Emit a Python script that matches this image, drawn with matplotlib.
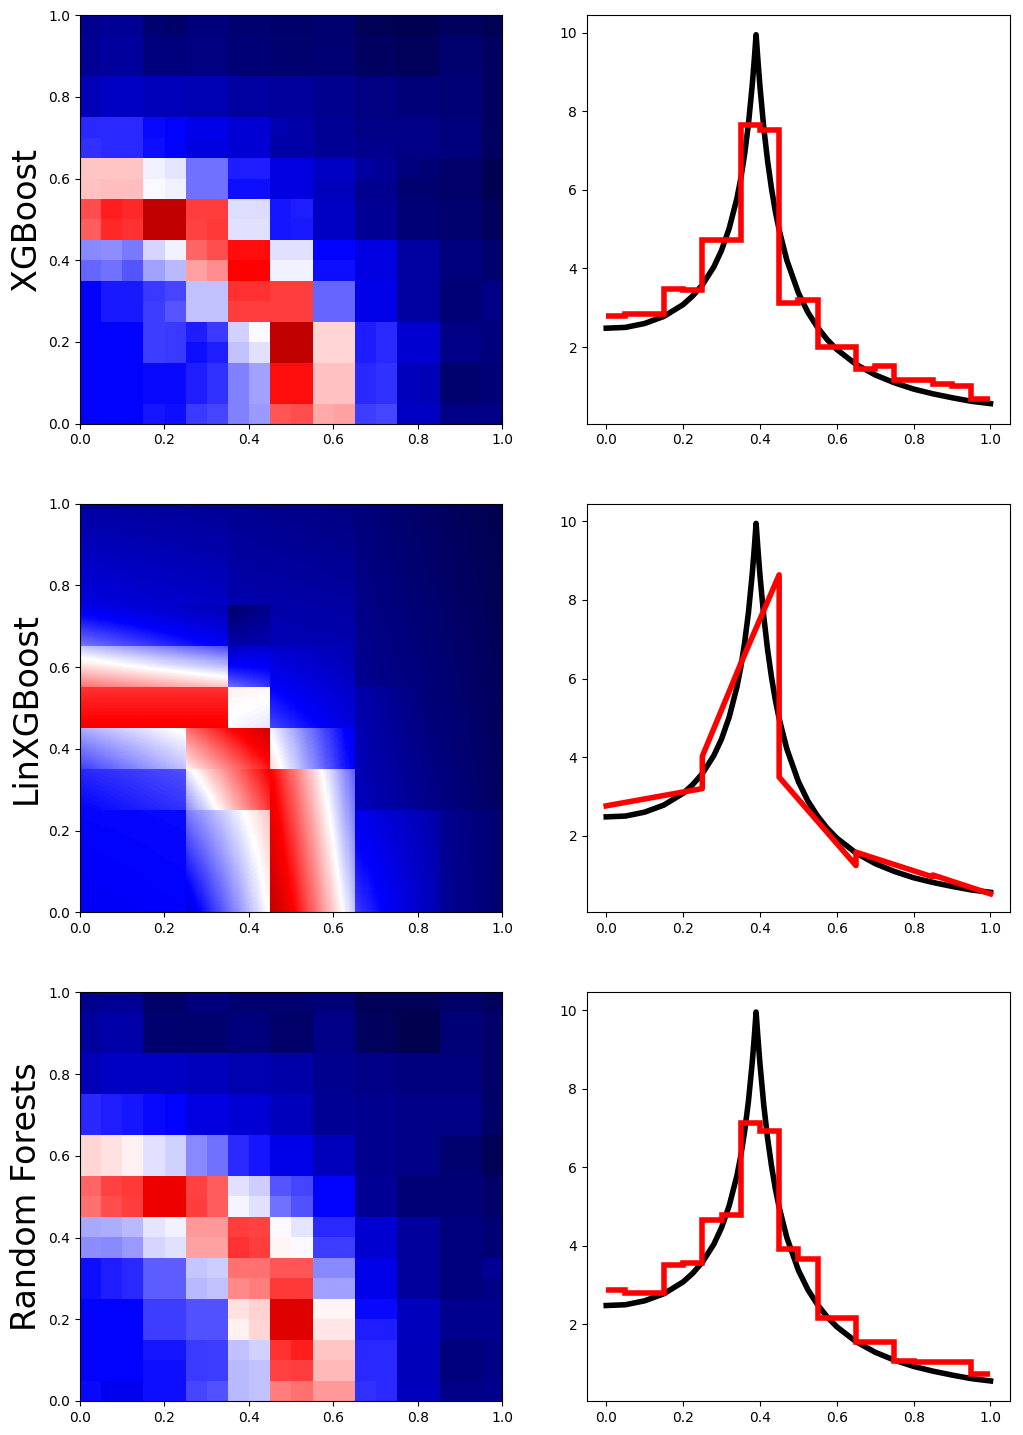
import numpy as np
import matplotlib
matplotlib.use("Agg")
import matplotlib.pyplot as plt

# ---- heatmap values on a 20x20 grid (0.05 cells), top row = y 0.95..1.0
# colour scale 0..100 mapped onto the seismic colormap
xgb_grid = [
    [9.5, 10.5, 10.5, 5, 4, 7, 7, 5, 5, 4.5, 4.5, 5, 5, 1.5, 1.5, 1, 1, 2.5, 2.5, 1.5],
    [10.5, 11.5, 11.5, 7, 7, 7.5, 7.5, 6, 6, 5, 5, 5.5, 5.5, 3, 3, 2, 2, 5, 5, 3],
    [10.5, 11.5, 11.5, 7, 7, 7.5, 7.5, 6, 6, 5, 5, 5.5, 5.5, 3, 3, 2, 2, 5, 5, 3],
    [15, 17, 17, 15.5, 15.5, 14.5, 14.5, 12, 12, 11, 11, 9.5, 9.5, 7.5, 7.5, 6.5, 6.5, 6, 6, 3],
    [15, 17, 17, 15.5, 15.5, 14.5, 14.5, 12, 12, 11, 11, 9.5, 9.5, 7.5, 7.5, 6.5, 6.5, 6, 6, 3],
    [29, 29, 29, 26, 25, 22, 22, 19.5, 19.5, 14, 13, 10.5, 10.5, 8.5, 8.5, 8.5, 8.5, 7, 7, 3],
    [30, 29, 29, 26.5, 25, 21, 21, 19.5, 19.5, 13, 13, 10.5, 10.5, 9, 9, 8.5, 8.5, 7, 7, 3],
    [55.5, 55.5, 55.5, 48.5, 47.5, 36, 36, 28, 28, 21, 21, 17, 17, 12, 10.5, 7, 6, 4, 4, 1],
    [56, 56.5, 56.5, 49.5, 48.5, 36, 36, 26.5, 26.5, 21, 21, 16, 16, 9.5, 9.5, 5, 5, 4, 4, 1],
    [67.5, 72, 71, 87, 87, 69, 69, 46.5, 46.5, 27, 28, 17, 17, 10.5, 10.5, 6, 6, 5, 5, 2.7],
    [66, 71, 70, 87, 87, 68.5, 69.5, 47, 47, 27, 27.5, 17, 17, 10.5, 10.5, 6, 6, 5, 5, 2.7],
    [38.5, 39, 37, 46, 48.5, 65, 67.5, 73.5, 73.5, 47, 47, 25, 25, 21, 21, 12, 12, 7, 7, 5],
    [35, 36, 33.5, 40.7, 43, 59, 61, 75, 75, 48.5, 48.5, 26.5, 26.5, 21, 21, 12, 12, 7, 7, 5],
    [25, 27.5, 27.5, 30.5, 32, 44, 44, 70, 70, 69, 69, 35, 35, 22, 22, 12, 12, 6, 6, 8.5],
    [25, 27.5, 27.5, 31, 33.5, 44, 44, 69, 69, 69, 69, 35, 35, 22, 22, 12, 12, 6, 6, 8.5],
    [25, 25, 25, 31, 30.5, 28, 30.5, 45.5, 49.5, 87, 87, 54, 54, 28, 29, 18.5, 18.5, 8.5, 8.5, 7],
    [25, 25, 25, 31, 30.5, 26.5, 28, 44, 47, 87, 87, 54, 54, 28, 29, 18.5, 18.5, 8.5, 8.5, 7],
    [25, 25, 25, 26, 26, 28, 30, 37.5, 41, 73.5, 73.5, 56, 56, 29, 30, 16, 15, 5, 5, 6],
    [25, 25, 25, 26, 26, 28, 30, 37.5, 41, 73.5, 73.5, 56, 56, 29, 30, 16, 15, 5, 5, 6],
    [25, 25, 25, 27, 26.5, 30.5, 32, 37.5, 40, 66.5, 67.5, 58.5, 59, 31, 32, 17, 17, 8.5, 8.5, 8.5],
]

rf_grid = [
    [9.5, 10.5, 10.5, 4, 4, 7, 7, 5, 5, 5, 5, 6, 6, 1.6, 1.6, 1.6, 1.6, 4, 4, 2.7],
    [11.7, 13, 13, 5, 5, 5, 5, 7, 7, 4, 4, 8.5, 8.5, 2.7, 2.7, 0.5, 0.5, 6, 6, 4],
    [11.7, 13, 13, 5, 5, 5, 5, 7, 7, 4, 4, 8.5, 8.5, 2.7, 2.7, 0.5, 0.5, 6, 6, 4],
    [15, 17, 17, 16.5, 16.5, 16, 16, 14, 14, 13, 13, 9.5, 9.5, 8.5, 8.5, 7, 7, 7, 7, 4],
    [15, 17, 17, 16.5, 16.5, 16, 16, 14, 14, 13, 13, 9.5, 9.5, 8.5, 8.5, 7, 7, 7, 7, 4],
    [29, 28, 27, 26, 25, 21, 21, 19.5, 19.5, 16, 16, 10.5, 10.5, 9.5, 9.5, 8.5, 8.5, 8.5, 8.5, 4],
    [29, 28, 27, 26, 25, 21, 21, 19.5, 19.5, 16, 16, 10.5, 10.5, 9.5, 9.5, 8.5, 8.5, 8.5, 8.5, 4],
    [54, 53, 51.5, 47, 45.5, 38.5, 36, 29, 27, 22, 22, 16, 16, 9.5, 9.5, 8.5, 8.5, 5, 5, 1.6],
    [54, 53, 51.5, 47, 45.5, 38.5, 36, 29, 27, 22, 22, 16, 16, 9.5, 9.5, 8.5, 8.5, 5, 5, 1.6],
    [65, 68.5, 69.5, 78, 78, 68.5, 66, 47, 45, 33.5, 32, 25, 25, 10.5, 10.5, 6, 6, 6, 6, 4],
    [64, 67.5, 69, 78, 78, 69, 66, 49, 47, 36, 33, 25, 25, 10.5, 10.5, 6, 6, 6, 6, 4],
    [41.5, 42, 43, 47.5, 48.5, 60, 60, 69, 68.5, 49.5, 47.5, 29, 29, 18.5, 18.5, 11.7, 11.7, 7, 7, 6],
    [39, 38.5, 40, 46, 47, 59, 59, 70, 69, 51, 49.5, 31, 31, 18.5, 18.5, 11.7, 11.7, 7, 7, 6],
    [26.5, 28, 29, 34, 34, 44.5, 45, 64, 64, 66.5, 66.5, 38.5, 38.5, 22, 22, 11.7, 11.7, 7, 7, 10.5],
    [26.5, 28, 29, 34, 34, 43, 44, 61.5, 62.5, 69.5, 69.5, 40.7, 40.7, 22, 22, 11.7, 11.7, 7, 7, 8.5],
    [25, 25, 25, 31, 31, 33, 33, 53, 54.5, 81, 81, 51, 51, 26, 26, 16, 16, 9.5, 9.5, 9.5],
    [25, 25, 25, 31, 31, 33, 33, 51.5, 54, 81, 81, 52.5, 52.5, 28, 28, 16, 16, 9.5, 9.5, 9.5],
    [25, 25, 25, 27, 27, 30.5, 31, 44, 45.5, 70, 72, 55.5, 55.5, 29, 29, 15.5, 15.5, 7, 7, 8.5],
    [25, 25, 25, 26.5, 26.5, 30.5, 31, 43, 44, 68.5, 69, 57, 57, 29, 29, 15.5, 15.5, 7, 7, 8.5],
    [26, 23, 23, 26.5, 26.5, 32, 33, 43, 44, 62.5, 64, 60, 60, 30, 29, 16, 16, 8.5, 8.5, 9.5],
]

# LinXGBoost leaves: (x0, x1, y0, y1, bottom-left, bottom-right, top-left, top-right)
lin_leaves = [
    (0.00, 0.25, 0.00, 0.25, 24, 25, 25.5, 26),
    (0.00, 0.25, 0.25, 0.35, 25, 30, 29, 33),
    (0.00, 0.25, 0.35, 0.45, 31, 44, 42, 51),
    (0.00, 0.35, 0.45, 0.55, 76, 76, 70, 70),
    (0.00, 0.35, 0.55, 0.65, 64, 56, 44, 32),
    (0.00, 0.35, 0.65, 0.75, 37, 24, 22, 14),
    (0.00, 0.35, 0.75, 1.00, 21, 17, 12, 10),
    (0.25, 0.45, 0.00, 0.25, 20, 51, 37, 56),
    (0.25, 0.45, 0.25, 0.35, 38, 70, 48, 76),
    (0.25, 0.45, 0.35, 0.45, 51, 73, 64, 84),
    (0.35, 0.45, 0.45, 0.55, 49.5, 47.5, 51.5, 51),
    (0.35, 0.45, 0.55, 0.65, 36, 30, 16, 19),
    (0.35, 0.45, 0.65, 0.75, 13, 14, 4, 9),
    (0.35, 0.45, 0.75, 1.00, 14, 13, 10, 9),
    (0.45, 0.65, 0.00, 0.35, 87, 44, 75, 34),
    (0.45, 0.65, 0.35, 0.45, 54, 24, 49, 22),
    (0.45, 0.65, 0.45, 0.65, 32, 20, 18, 14),
    (0.45, 0.65, 0.65, 1.00, 15, 14, 9, 7),
    (0.65, 0.85, 0.00, 0.25, 31, 14, 23, 13),
    (0.65, 0.85, 0.25, 0.55, 16, 8, 14, 5),
    (0.65, 0.85, 0.55, 1.00, 10, 6, 7, 3),
    (0.85, 1.00, 0.00, 0.25, 11, 5, 10, 5),
    (0.85, 1.00, 0.25, 1.00, 8, 3, 3, 0.5),
]

# ---- 1D slice: true function (black)
true_x = [0, 0.05, 0.1, 0.15, 0.2, 0.225, 0.25, 0.28, 0.3, 0.32, 0.34, 0.35, 0.36, 0.37,
          0.38, 0.385, 0.39, 0.395, 0.4, 0.41, 0.42, 0.43, 0.44, 0.45, 0.47, 0.5,
          0.525, 0.55, 0.575, 0.6, 0.65, 0.7, 0.75, 0.8, 0.85, 0.9, 0.95, 1.0]
true_y = [2.48, 2.50, 2.60, 2.78, 3.08, 3.30, 3.58, 4.04, 4.46, 5.02, 5.78, 6.28, 6.90, 7.67,
          8.67, 9.28, 9.95, 9.27, 8.64, 7.58, 6.73, 6.04, 5.46, 4.98, 4.21, 3.38,
          2.88, 2.50, 2.19, 1.94, 1.56, 1.29, 1.09, 0.93, 0.81, 0.71, 0.62, 0.56]

# step predictions (red)
xgb_edges = [0, 0.05, 0.15, 0.2, 0.25, 0.35, 0.4, 0.45, 0.5, 0.55, 0.65, 0.7, 0.75, 0.85, 0.9, 0.95, 1.0]
xgb_pred = [2.80, 2.85, 3.49, 3.44, 4.73, 7.64, 7.53, 3.12, 3.20, 2.00, 1.44, 1.51, 1.15, 1.07, 1.02, 0.69]

rf_edges = [0, 0.05, 0.15, 0.2, 0.25, 0.3, 0.35, 0.4, 0.45, 0.5, 0.55, 0.65, 0.75, 0.8, 0.85, 0.95, 1.0]
rf_pred = [2.87, 2.81, 3.52, 3.57, 4.65, 4.79, 7.12, 6.93, 3.93, 3.66, 2.17, 1.54, 1.07, 1.03, 1.05, 0.73]

# piecewise linear prediction
lin_x = [0, 0.25, 0.25, 0.35, 0.45, 0.45, 0.65, 0.65, 0.85, 0.85, 1.0]
lin_y = [2.76, 3.20, 4.02, 6.38, 8.64, 3.49, 1.24, 1.58, 0.95, 1.00, 0.52]

row_names = ["XGBoost", "LinXGBoost", "Random Forests"]


def leaves_to_image(leaves, n=400):
    centres = (np.arange(n) + 0.5) / n
    X, Y = np.meshgrid(centres, centres)
    Z = np.zeros_like(X)
    for x0, x1, y0, y1, bl, br, tl, tr in leaves:
        m = (X >= x0) & (X < x1) & (Y >= y0) & (Y < y1)
        fx = (X[m] - x0) / (x1 - x0)
        fy = (Y[m] - y0) / (y1 - y0)
        bottom = bl + (br - bl) * fx
        top = tl + (tr - tl) * fx
        Z[m] = bottom + (top - bottom) * fy
    return Z


fig, axes = plt.subplots(3, 2, figsize=(10.23, 14.35), dpi=100)
plt.subplots_adjust(left=0.078, right=0.987, top=0.9895, bottom=0.0237,
                    wspace=0.20, hspace=0.196)

heat = [np.array(xgb_grid), leaves_to_image(lin_leaves), np.array(rf_grid)]
for i, z in enumerate(heat):
    ax = axes[i, 0]
    origin = 'lower' if i == 1 else 'upper'
    ax.imshow(z, cmap='seismic', vmin=0, vmax=100, extent=(0, 1, 0, 1),
              origin=origin, aspect='auto', interpolation='nearest')
    ax.set_xlim(0, 1)
    ax.set_ylim(0, 1)
    ax.set_ylabel(row_names[i], fontsize=24)

for i in range(3):
    ax = axes[i, 1]
    ax.plot(true_x, true_y, color='black', linewidth=4, zorder=2)

# red predictions drawn over the black curve
axes[0, 1].stairs(xgb_pred, xgb_edges, baseline=None, color='red', linewidth=4, zorder=3)
axes[1, 1].plot(lin_x, lin_y, color='red', linewidth=4, zorder=3)
axes[2, 1].stairs(rf_pred, rf_edges, baseline=None, color='red', linewidth=4, zorder=3)

for i in range(3):
    ax = axes[i, 1]
    ax.set_xlim(-0.05, 1.05)
    ax.set_ylim(0.05, 10.45)
    ax.set_xticks([0, 0.2, 0.4, 0.6, 0.8, 1.0])
    ax.set_yticks([2, 4, 6, 8, 10])

plt.savefig("out.png", dpi=100)
